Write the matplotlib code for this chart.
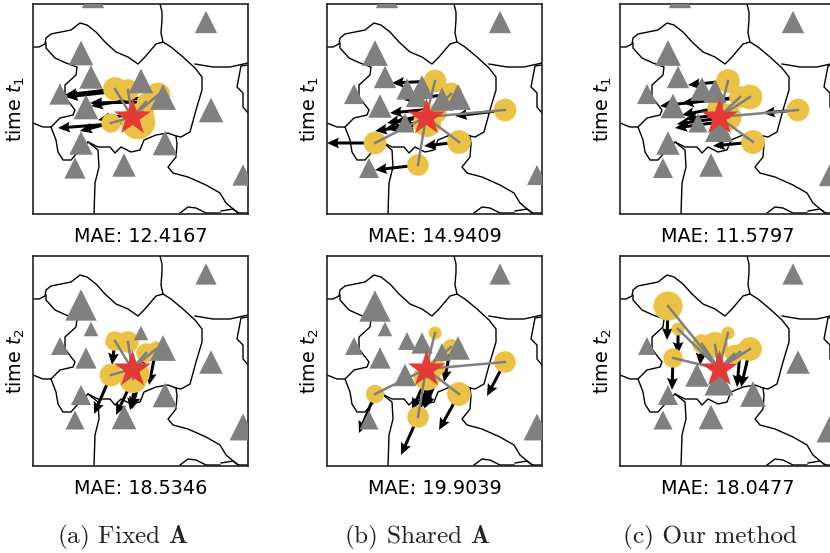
import matplotlib
matplotlib.use("Agg")
import matplotlib.pyplot as plt
import numpy as np

# all map values are pixel-ish positions inside a 215 x 210 map frame
map_lines = [
    [(0,43),(6,43),(12,40),(13,34),(18,30),(28,28),(38,26),(47,19),(54,21),(63,28),(72,38),(83,48),(95,53),(105,60),(112,53),(123,40),(130,38),(128,29),(129,16),(129,8),(127,0)],
    [(130,38),(138,43),(150,53),(162,64),(169,73),(169,86),(163,106),(157,128),(148,133),(143,132),(144,140),(143,153),(135,163),(140,169),(155,173),(173,181),(187,189),(193,199),(205,209),(215,209)],
    [(162,60),(180,63),(197,63),(215,59)],
    [(215,61),(208,62),(204,83),(210,89),(210,103),(215,109)],
    [(13,39),(13,44),(22,54),(33,59),(44,63),(43,71),(32,81),(32,93),(42,106),(40,111),(27,114),(18,123),(10,123),(0,119)],
    [(18,123),(23,136),(25,148),(30,156),(38,156),(45,148),(55,138),(65,143),(77,143),(82,149),(88,143),(98,148),(107,146),(111,136),(123,131),(135,129),(143,132)],
    [(55,138),(65,146),(66,163),(62,179),(61,210)],
    [(147,209),(155,203),(163,204),(173,209),(187,209)],
    [(188,207),(200,205),(207,210)],
]

target = (99, 113)

# stations: x, y, size
a_t1_stations = [(173,18,20),(48,49,22),(58,73,21),(27,90,19),(53,103,22),(48,139,21),(42,164,19),(91,161,21),(132,139,22),(108,77,22),(130,93,23),(178,106,22),(210,171,19),(60,-7,20)]
a_t2_stations = [(173,18,19),(48,49,28),(58,73,13),(27,90,16),(53,102,19),(48,139,18),(42,164,17),(91,161,22),(132,139,22),(108,77,13),(130,92,23),(178,106,21),(210,171,24)]
b_t1_stations = [(173,18,20),(48,49,23),(58,73,20),(27,90,18),(53,102,21),(80,85,19),(95,83,21),(90,92,20),(115,95,21),(131,93,23),(78,119,17),(42,164,18),(210,171,18),(60,-7,20)]
b_t2_stations = [(173,18,19),(48,50,28),(58,73,13),(27,90,16),(53,102,19),(80,85,16),(95,87,19),(115,96,16),(131,92,21),(78,119,20),(42,164,17),(210,171,24)]
c_t1_stations = [(173,18,20),(48,49,23),(58,73,20),(27,90,18),(53,102,22),(82,85,21),(95,87,21),(78,119,17),(99,124,25),(48,139,21),(43,164,18),(91,161,21),(210,171,20),(60,-7,20)]
c_t2_stations = [(173,18,19),(27,90,16),(77,119,21),(99,125,26),(133,138,23),(48,139,18),(43,164,17),(91,161,22),(178,106,21),(210,173,24)]

# attended sources: x, y, weight
a_t1_sources = [(82,85,22),(95,86,20),(125,91,23),(113,98,17),(78,119,18),(105,118,32),(110,108,20)]
a_t2_sources = [(82,85,18),(95,86,20),(113,97,18),(123,93,14),(78,119,21),(100,123,26),(105,118,22)]
b_t1_sources = [(108,77,21),(124,90,21),(178,106,21),(132,138,22),(48,139,21),(91,161,20),(100,119,26),(110,109,18)]
b_t2_sources = [(108,77,12),(124,91,15),(178,106,20),(132,138,22),(48,138,17),(91,161,20),(100,121,25),(110,111,16)]
c_t1_sources = [(108,77,22),(120,93,20),(130,93,23),(178,106,21),(133,138,22),(108,113,25),(97,104,18)]
c_t2_sources = [(48,50,27),(58,73,12),(53,102,18),(82,88,18),(95,89,24),(108,77,12),(114,98,17),(130,93,22),(120,96,15)]

# wind arrows: x, y, dx, dy
a_t1_wind = [(82,85,-50,6),(95,86,-62,7),(113,98,-56,1),(125,91,-67,11),(105,118,-80,6),(78,119,-31,8),(110,108,-45,8)]
a_t2_wind = [(82,85,-3,24),(123,93,-7,36),(78,119,-17,39),(100,123,-17,36),(105,118,-8,36),(113,97,-14,56),(108,120,-10,33)]
b_t1_wind = [(108,77,-43,2),(124,90,-47,6),(178,106,-50,6),(132,138,-35,4),(48,139,-48,0),(91,161,-43,5),(100,119,-52,8),(110,109,-50,10),(105,105,-42,4),(104,112,-36,6),(102,116,-44,9),(108,115,-34,8)]
b_t2_wind = [(124,91,-7,35),(178,106,-18,34),(132,138,-20,36),(48,138,-16,39),(91,161,-17,38),(100,121,-15,33),(110,111,-13,41),(113,115,-15,37),(103,121,-10,32),(108,120,-12,30),(105,122,-8,30)]
c_t1_wind = [(108,77,-40,4),(120,93,-80,9),(130,93,-68,6),(178,106,-35,3),(133,138,-40,4),(108,113,-51,7),(97,104,-35,7),(105,110,-40,5),(100,118,-45,6)]
c_t2_wind = [(48,50,-1,34),(58,73,0,25),(53,102,-1,32),(82,88,-2,21),(130,93,-9,38),(120,96,-3,35)]

mae_t1 = ["12.4167", "14.9409", "11.5797"]
mae_t2 = ["18.5346", "19.9039", "18.0477"]
captions = ["(a) Fixed $\\mathbf{A}$", "(b) Shared $\\mathbf{A}$", "(c) Our method"]

W, H = 830, 553
GRAY = "#808080"
YELLOW = "#ECC244"
RED = "#E53935"


def px2(d):
    return (d * 72.0 / 100.0) ** 2


def draw_panel(ax, stations, sources, wind, mae, tlabel):
    ax.set_xlim(0, 215)
    ax.set_ylim(210, 0)
    ax.set_xticks([])
    ax.set_yticks([])
    for s in ax.spines.values():
        s.set_linewidth(1.2)
        s.set_color("#222222")
    for line in map_lines:
        pts = np.array(line)
        ax.plot(pts[:, 0], pts[:, 1], color="black", lw=1.0, zorder=1)
    w = np.array(wind, dtype=float)
    ax.quiver(w[:, 0], w[:, 1], w[:, 2], w[:, 3], angles="xy", scale_units="xy", scale=1,
              units="dots", width=3.0, headwidth=3.6, headlength=4.0, headaxislength=3.5,
              color="black", zorder=2)
    src = np.array(sources, dtype=float)
    ax.scatter(src[:, 0], src[:, 1], s=px2(src[:, 2] * 1.08), color=YELLOW, linewidths=0, zorder=3)
    st = np.array(stations, dtype=float)
    ax.scatter(st[:, 0], st[:, 1], s=px2(st[:, 2] * 1.12), marker="^", color=GRAY, linewidths=0, zorder=4)
    for x, y, _ in sources:
        ax.plot([target[0], x], [target[1], y], color=GRAY, lw=1.8, zorder=5)
    ax.scatter([target[0]], [target[1]], s=px2(39), marker="*", color=RED, linewidths=0, zorder=6)
    ax.set_xlabel("MAE: " + mae, fontsize=13.8, labelpad=9)
    ax.set_ylabel("time $t_%s$" % tlabel, fontsize=13.8, labelpad=4)


fig = plt.figure(figsize=(8.3, 5.53), dpi=100)
lefts = [33, 327, 620]
tops = [4, 256]
rows = [
    ([a_t1_stations, b_t1_stations, c_t1_stations], [a_t1_sources, b_t1_sources, c_t1_sources], [a_t1_wind, b_t1_wind, c_t1_wind], mae_t1, "1"),
    ([a_t2_stations, b_t2_stations, c_t2_stations], [a_t2_sources, b_t2_sources, c_t2_sources], [a_t2_wind, b_t2_wind, c_t2_wind], mae_t2, "2"),
]
for r, (stations, sources, wind, mae, tlabel) in enumerate(rows):
    for c in range(3):
        ax = fig.add_axes([lefts[c] / W, 1 - (tops[r] + 210) / H, 215 / W, 210 / H])
        draw_panel(ax, stations[c], sources[c], wind[c], mae[c], tlabel)

for c in range(3):
    fig.text((lefts[c] + 90) / W, 1 - 537 / H, captions[c], family="cmr10", math_fontfamily="cm",
             fontsize=18.2, ha="center", va="center", color="#222222")

plt.savefig("out.png", dpi=100)
